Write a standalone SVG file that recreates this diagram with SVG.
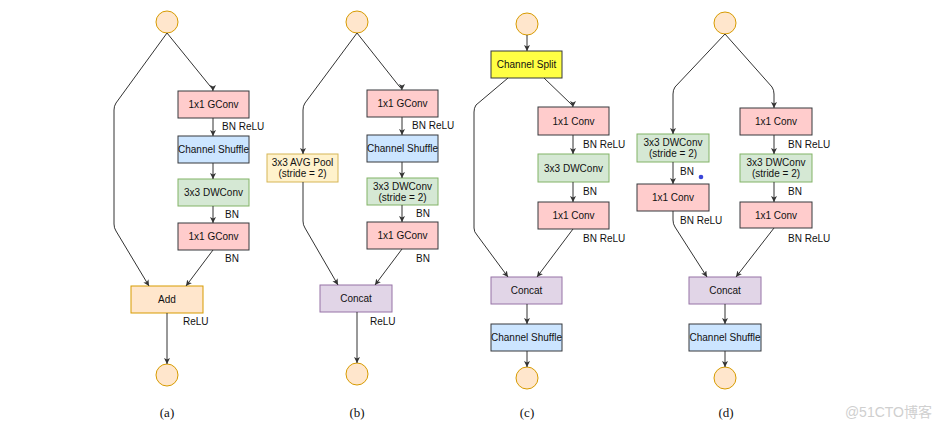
<svg xmlns="http://www.w3.org/2000/svg" width="940" height="434" viewBox="0 0 940 434">
<style>
  .t{font-family:"Liberation Sans",Arial,sans-serif;font-size:10px;fill:#111;text-anchor:middle}
  .l{font-family:"Liberation Sans",Arial,sans-serif;font-size:10px;fill:#111}
  .cap{font-family:"Liberation Serif","Times New Roman",serif;font-size:13px;fill:#111;text-anchor:middle}
  .wm{font-family:"Liberation Sans","Noto Sans CJK SC",sans-serif;font-size:14px;fill:#cfcfcf;text-anchor:end}
  .io{fill:#ffe6cc;stroke:#d79b00;stroke-width:1}
  .pink{fill:#ffcccc;stroke:#36393d;stroke-width:1}
  .blue{fill:#cce5ff;stroke:#36393d;stroke-width:1}
  .green{fill:#d5e8d4;stroke:#82b366;stroke-width:1}
  .orange{fill:#ffe6cc;stroke:#d79b00;stroke-width:1}
  .yel{fill:#fff2cc;stroke:#d6b656;stroke-width:1}
  .purple{fill:#e1d5e7;stroke:#9673a6;stroke-width:1}
  .split{fill:#ffff44;stroke:#36393d;stroke-width:1}
  .e{fill:none;stroke:#333;stroke-width:1;marker-end:url(#arr)}
</style>
<defs>
  <marker id="arr" markerUnits="userSpaceOnUse" markerWidth="7" markerHeight="7" refX="6" refY="3" orient="auto">
    <path d="M0,0 L6,3 L0,6 L1.5,3 z" fill="#333"/>
  </marker>
</defs>

<!-- Panel (a) -->
<g id="a_in"><circle class="io" cx="167" cy="22" r="11"/></g>
<g id="a_gconv1"><rect class="pink" x="178" y="91" width="71" height="27"/><text class="t" x="213.5" y="108">1x1 GConv</text></g>
<g id="a_shuffle"><rect class="blue" x="178" y="136" width="71" height="27"/><text class="t" x="213.5" y="153">Channel Shuffle</text></g>
<g id="a_dw"><rect class="green" x="178" y="179" width="71" height="27"/><text class="t" x="213.5" y="196">3x3 DWConv</text></g>
<g id="a_gconv2"><rect class="pink" x="178" y="223" width="71" height="27"/><text class="t" x="213.5" y="240">1x1 GConv</text></g>
<g id="a_add"><rect class="orange" x="131" y="286" width="72" height="27"/><text class="t" x="167" y="303">Add</text></g>
<g id="a_out"><circle class="io" cx="167" cy="375" r="11"/></g>

<!-- Panel (b) -->
<g id="b_in"><circle class="io" cx="357" cy="22" r="11"/></g>
<g id="b_pool"><rect class="yel" x="267" y="154" width="71" height="28"/><text class="t" x="302.5" y="166">3x3 AVG Pool</text><text class="t" x="302.5" y="177">(stride = 2)</text></g>
<g id="b_gconv1"><rect class="pink" x="367" y="90" width="71" height="27"/><text class="t" x="402.5" y="107">1x1 GConv</text></g>
<g id="b_shuffle"><rect class="blue" x="367" y="135" width="71" height="27"/><text class="t" x="402.5" y="152">Channel Shuffle</text></g>
<g id="b_dw"><rect class="green" x="367" y="178" width="71" height="27"/><text class="t" x="402.5" y="190">3x3 DWConv</text><text class="t" x="402.5" y="201">(stride = 2)</text></g>
<g id="b_gconv2"><rect class="pink" x="367" y="222" width="71" height="27"/><text class="t" x="402.5" y="239">1x1 GConv</text></g>
<g id="b_concat"><rect class="purple" x="320" y="285" width="72" height="27"/><text class="t" x="356" y="302">Concat</text></g>
<g id="b_out"><circle class="io" cx="357" cy="374" r="11"/></g>

<!-- Panel (c) -->
<g id="c_in"><circle class="io" cx="527" cy="24" r="11"/></g>
<g id="c_split"><rect class="split" x="491" y="51" width="71" height="27"/><text class="t" x="526.5" y="68">Channel Split</text></g>
<g id="c_conv1"><rect class="pink" x="538" y="107" width="71" height="28"/><text class="t" x="573.5" y="125">1x1 Conv</text></g>
<g id="c_dw"><rect class="green" x="538" y="154" width="71" height="28"/><text class="t" x="573.5" y="172">3x3 DWConv</text></g>
<g id="c_conv2"><rect class="pink" x="538" y="202" width="71" height="27"/><text class="t" x="573.5" y="219">1x1 Conv</text></g>
<g id="c_concat"><rect class="purple" x="491" y="277" width="71" height="27"/><text class="t" x="526.5" y="294">Concat</text></g>
<g id="c_shuffle"><rect class="blue" x="491" y="324" width="71" height="27"/><text class="t" x="526.5" y="341">Channel Shuffle</text></g>
<g id="c_out"><circle class="io" cx="527" cy="378" r="11"/></g>

<!-- Panel (d) -->
<g id="d_in"><circle class="io" cx="725" cy="23" r="11"/></g>
<g id="d_ldw"><rect class="green" x="637" y="134" width="72" height="28"/><text class="t" x="673" y="146">3x3 DWConv</text><text class="t" x="673" y="157">(stride = 2)</text></g>
<g id="d_lconv"><rect class="pink" x="637" y="184" width="72" height="27"/><text class="t" x="673" y="201">1x1 Conv</text></g>
<g id="d_rconv1"><rect class="pink" x="740" y="108" width="72" height="27"/><text class="t" x="776" y="125">1x1 Conv</text></g>
<g id="d_rdw"><rect class="green" x="740" y="154" width="72" height="28"/><text class="t" x="776" y="166">3x3 DWConv</text><text class="t" x="776" y="177">(stride = 2)</text></g>
<g id="d_rconv2"><rect class="pink" x="740" y="202" width="72" height="26"/><text class="t" x="776" y="219">1x1 Conv</text></g>
<g id="d_concat"><rect class="purple" x="689" y="277" width="72" height="27"/><text class="t" x="725" y="294">Concat</text></g>
<g id="d_shuffle"><rect class="blue" x="689" y="324" width="72" height="27"/><text class="t" x="725" y="341">Channel Shuffle</text></g>
<g id="d_out"><circle class="io" cx="725" cy="378" r="11"/></g>
<circle cx="701" cy="177" r="2.3" fill="#3a46d8"/>

<!-- Connectors -->
<g id="connectors">
  <path class="e" d="M167,33 L210,86 Q213,89 213,91"/>
  <path class="e" d="M213,118 L213,136"/>
  <path class="e" d="M213,163 L213,179"/>
  <path class="e" d="M213,206 L213,223"/>
  <path class="e" d="M213,250 L186,286"/>
  <path class="e" d="M167,33 L116,103 Q114,106 114,110 L114,224 Q114,228 116,231 L149,286"/>
  <path class="e" d="M167,313 L167,364"/>

  <path class="e" d="M357,33 L399,86 Q402,89 402,90"/>
  <path class="e" d="M402,117 L402,135"/>
  <path class="e" d="M402,162 L402,178"/>
  <path class="e" d="M402,205 L402,222"/>
  <path class="e" d="M402,249 L375,285"/>
  <path class="e" d="M357,33 L305,103 Q303,106 303,110 L303,154"/>
  <path class="e" d="M303,182 L303,221 Q303,225 305,228 L338,285"/>
  <path class="e" d="M357,312 L357,363"/>

  <path class="e" d="M527,35 L527,51"/>
  <path class="e" d="M544,78 L571,104 Q573,106 573,107"/>
  <path class="e" d="M573,135 L573,154"/>
  <path class="e" d="M573,182 L573,202"/>
  <path class="e" d="M573,229 L537,277"/>
  <path class="e" d="M508,78 L476,105 Q474,108 474,112 L474,228 Q474,232 477,235 L508,277"/>
  <path class="e" d="M527,304 L527,324"/>
  <path class="e" d="M527,351 L527,367"/>

  <path class="e" d="M725,34 L675,87 Q673,90 673,94 L673,134"/>
  <path class="e" d="M725,34 L772,87 Q774,90 774,94 L774,108"/>
  <path class="e" d="M673,162 L673,184"/>
  <path class="e" d="M774,135 L774,154"/>
  <path class="e" d="M774,182 L774,202"/>
  <path class="e" d="M673,211 L673,220 Q673,224 675,227 L707,277"/>
  <path class="e" d="M774,228 L736,277"/>
  <path class="e" d="M725,304 L725,324"/>
  <path class="e" d="M725,351 L725,367"/>
</g>

<!-- Edge labels -->
<g id="labels">
  <text class="l" x="222" y="130">BN ReLU</text>
  <text class="l" x="225" y="218">BN</text>
  <text class="l" x="225" y="262">BN</text>
  <text class="l" x="183" y="325">ReLU</text>

  <text class="l" x="412" y="129">BN ReLU</text>
  <text class="l" x="416" y="217">BN</text>
  <text class="l" x="416" y="262">BN</text>
  <text class="l" x="370" y="325">ReLU</text>

  <text class="l" x="583" y="148">BN ReLU</text>
  <text class="l" x="583" y="195">BN</text>
  <text class="l" x="583" y="242">BN ReLU</text>

  <text class="l" x="680" y="175">BN</text>
  <text class="l" x="680" y="224">BN ReLU</text>
  <text class="l" x="788" y="148">BN ReLU</text>
  <text class="l" x="788" y="195">BN</text>
  <text class="l" x="788" y="242">BN ReLU</text>
</g>

<g id="captions">
  <text class="cap" x="167" y="417">(a)</text>
  <text class="cap" x="357" y="417">(b)</text>
  <text class="cap" x="527" y="417">(c)</text>
  <text class="cap" x="726" y="417">(d)</text>
  <text class="wm" x="932" y="417">@51CTO博客</text>
</g>
</svg>
